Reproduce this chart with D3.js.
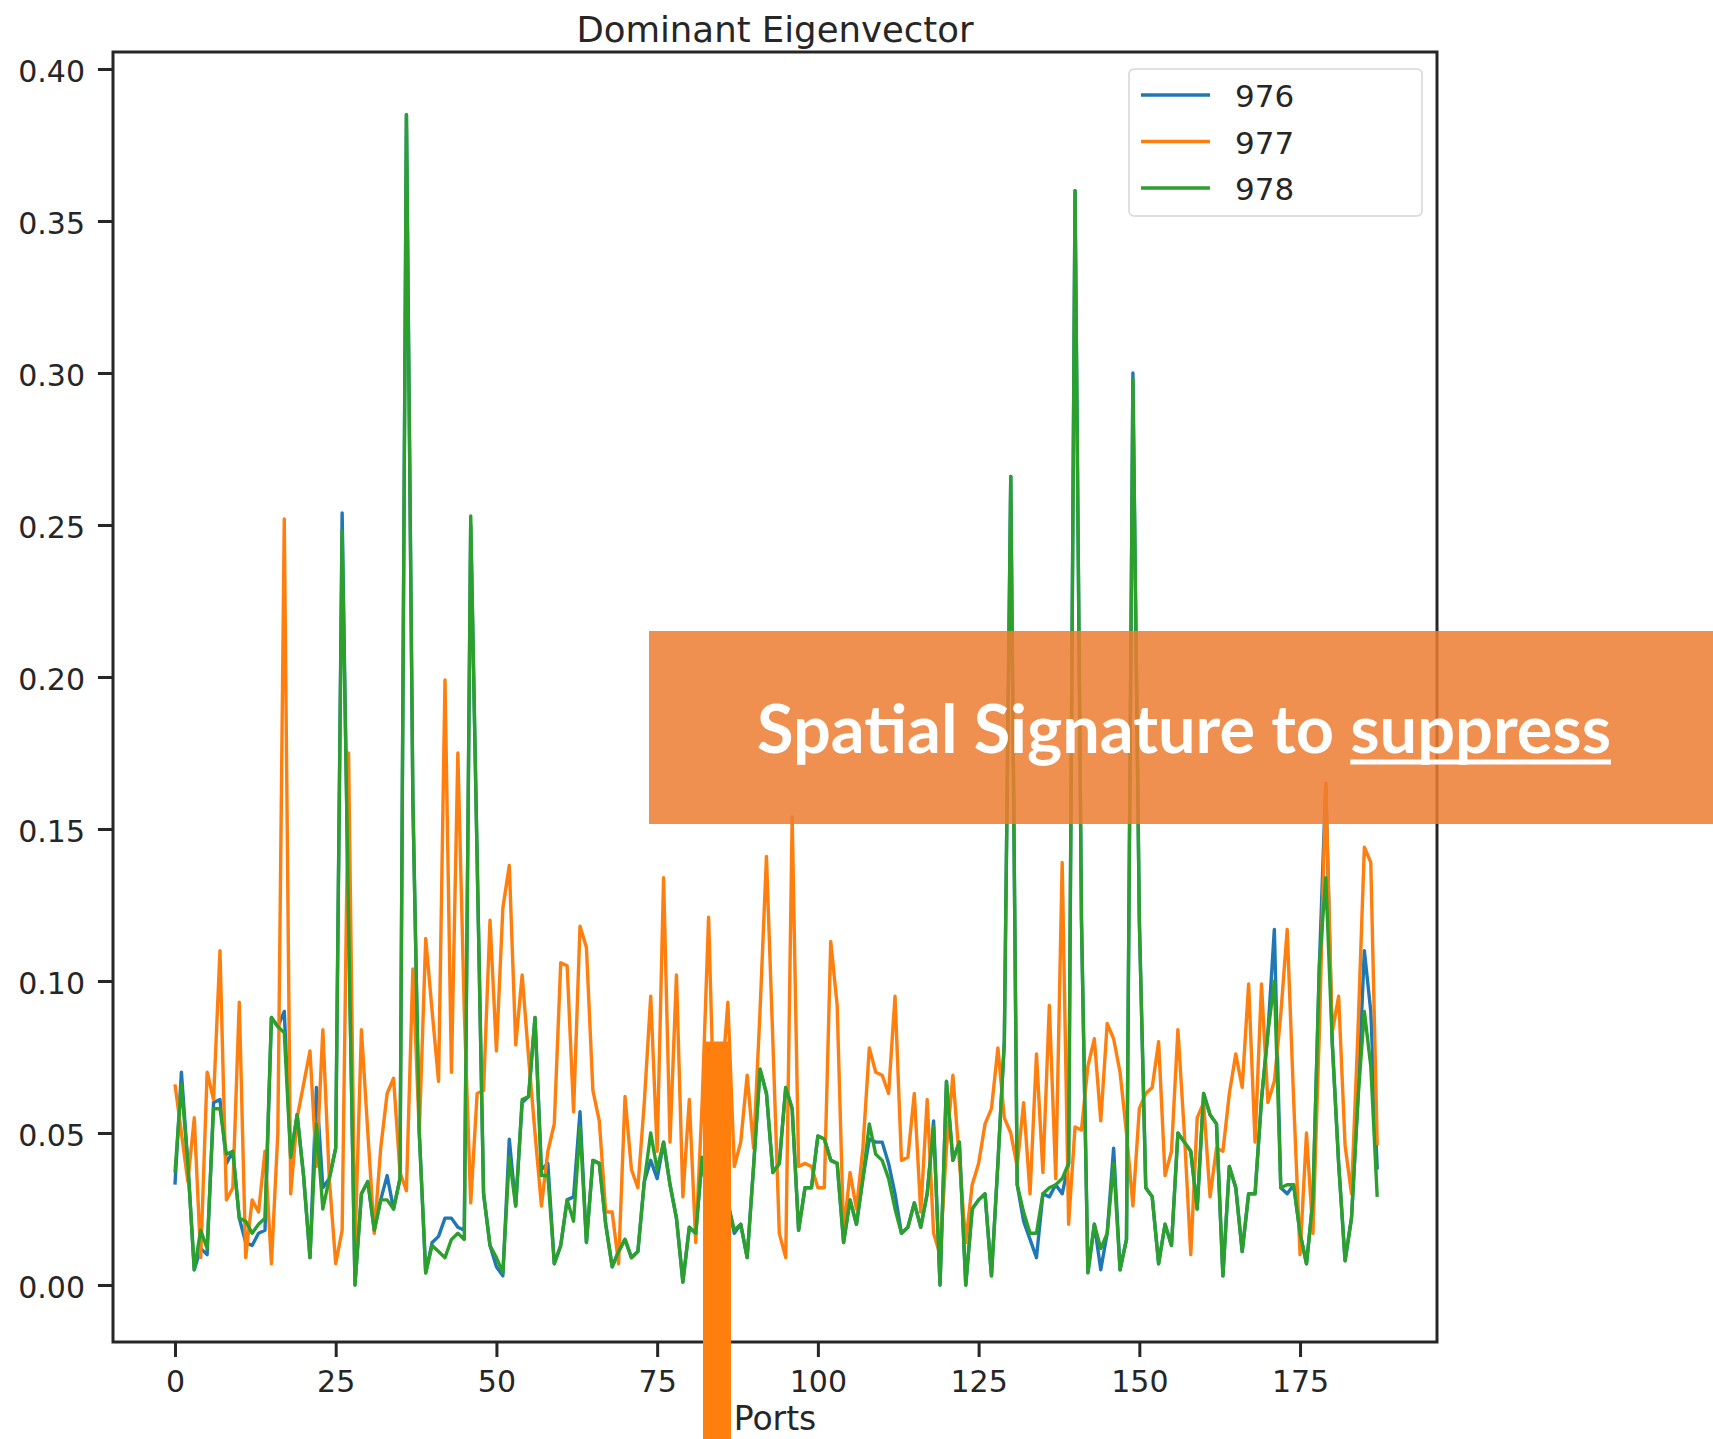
<!DOCTYPE html>
<html>
<head>
<meta charset="utf-8">
<script src="https://cdn.jsdelivr.net/npm/d3@7"></script>
<style>
  html, body { margin: 0; padding: 0; background: #ffffff; }
  svg { display: block; }
</style>
</head>
<body>
<svg id="chart" width="1713" height="1439"></svg>
<script>
// Port indices along the x axis
const ports = d3.range(0, 188);

// Dominant eigenvector components per port, one array per snapshot
const s976 = [
  0.033, 0.070, 0.040, 0.005, 0.012, 0.010, 0.060, 0.061, 0.040, 0.044,
  0.022, 0.014, 0.013, 0.017, 0.018, 0.088, 0.085, 0.090, 0.042, 0.056,
  0.036, 0.009, 0.065, 0.032, 0.035, 0.045, 0.254, 0.120, 0.000, 0.030,
  0.034, 0.018, 0.028, 0.036, 0.025, 0.035, 0.385, 0.160, 0.050, 0.004,
  0.014, 0.016, 0.022, 0.022, 0.019, 0.018, 0.250, 0.140, 0.030, 0.013,
  0.006, 0.003, 0.048, 0.026, 0.060, 0.062, 0.088, 0.038, 0.040, 0.007,
  0.013, 0.028, 0.029, 0.057, 0.014, 0.041, 0.040, 0.020, 0.006, 0.011,
  0.015, 0.009, 0.011, 0.034, 0.041, 0.035, 0.047, 0.033, 0.022, 0.001,
  0.019, 0.017, 0.042, 0.025, 0.035, 0.040, 0.027, 0.017, 0.020, 0.009,
  0.039, 0.071, 0.063, 0.037, 0.040, 0.065, 0.058, 0.018, 0.032, 0.032,
  0.049, 0.048, 0.041, 0.040, 0.014, 0.028, 0.020, 0.035, 0.048, 0.047,
  0.047, 0.040, 0.030, 0.017, 0.019, 0.027, 0.019, 0.030, 0.054, 0.000,
  0.067, 0.041, 0.047, 0.000, 0.025, 0.028, 0.030, 0.003, 0.040, 0.080,
  0.266, 0.033, 0.021, 0.015, 0.009, 0.030, 0.029, 0.033, 0.030, 0.040,
  0.360, 0.120, 0.004, 0.020, 0.005, 0.017, 0.045, 0.005, 0.015, 0.300,
  0.120, 0.032, 0.029, 0.007, 0.020, 0.013, 0.050, 0.047, 0.044, 0.025,
  0.063, 0.056, 0.053, 0.003, 0.039, 0.032, 0.011, 0.030, 0.030, 0.061,
  0.083, 0.117, 0.032, 0.030, 0.033, 0.017, 0.007, 0.028, 0.105, 0.165,
  0.080, 0.040, 0.008, 0.022, 0.061, 0.110, 0.090, 0.038
];

const s977 = [
  0.066, 0.050, 0.034, 0.055, 0.009, 0.070, 0.061, 0.110, 0.028, 0.032,
  0.093, 0.009, 0.028, 0.024, 0.044, 0.007, 0.050, 0.252, 0.030, 0.055,
  0.066, 0.077, 0.039, 0.084, 0.035, 0.007, 0.018, 0.175, 0.012, 0.084,
  0.050, 0.017, 0.045, 0.063, 0.068, 0.037, 0.031, 0.104, 0.050, 0.114,
  0.090, 0.067, 0.199, 0.070, 0.175, 0.090, 0.027, 0.063, 0.064, 0.120,
  0.077, 0.124, 0.138, 0.079, 0.102, 0.075, 0.050, 0.026, 0.044, 0.053,
  0.106, 0.105, 0.057, 0.118, 0.111, 0.064, 0.054, 0.024, 0.024, 0.007,
  0.062, 0.038, 0.032, 0.060, 0.095, 0.044, 0.134, 0.047, 0.102, 0.029,
  0.061, 0.014, 0.060, 0.121, 0.045, 0.065, 0.093, 0.039, 0.047, 0.069,
  0.045, 0.090, 0.141, 0.080, 0.017, 0.009, 0.154, 0.039, 0.040, 0.039,
  0.032, 0.032, 0.113, 0.092, 0.017, 0.037, 0.025, 0.045, 0.078, 0.070,
  0.069, 0.063, 0.095, 0.041, 0.042, 0.063, 0.024, 0.061, 0.017, 0.010,
  0.045, 0.069, 0.041, 0.014, 0.033, 0.040, 0.053, 0.058, 0.078, 0.055,
  0.050, 0.039, 0.060, 0.030, 0.076, 0.037, 0.092, 0.035, 0.139, 0.020,
  0.052, 0.051, 0.072, 0.081, 0.054, 0.086, 0.081, 0.070, 0.050, 0.026,
  0.058, 0.063, 0.065, 0.080, 0.036, 0.044, 0.084, 0.050, 0.010, 0.055,
  0.060, 0.029, 0.045, 0.044, 0.063, 0.076, 0.065, 0.099, 0.047, 0.099,
  0.060, 0.067, 0.089, 0.117, 0.061, 0.010, 0.050, 0.017, 0.083, 0.165,
  0.083, 0.095, 0.046, 0.030, 0.083, 0.144, 0.139, 0.046
];

const s978 = [
  0.037, 0.066, 0.040, 0.005, 0.018, 0.012, 0.058, 0.058, 0.043, 0.044,
  0.022, 0.021, 0.017, 0.020, 0.022, 0.088, 0.085, 0.083, 0.042, 0.056,
  0.036, 0.009, 0.053, 0.025, 0.035, 0.045, 0.248, 0.120, 0.000, 0.030,
  0.034, 0.018, 0.028, 0.028, 0.025, 0.035, 0.385, 0.160, 0.050, 0.004,
  0.013, 0.011, 0.009, 0.015, 0.017, 0.015, 0.253, 0.140, 0.030, 0.013,
  0.009, 0.004, 0.042, 0.026, 0.061, 0.062, 0.088, 0.036, 0.036, 0.007,
  0.013, 0.028, 0.021, 0.052, 0.014, 0.041, 0.040, 0.020, 0.006, 0.011,
  0.015, 0.009, 0.011, 0.034, 0.050, 0.038, 0.047, 0.033, 0.022, 0.001,
  0.019, 0.017, 0.042, 0.025, 0.035, 0.040, 0.027, 0.018, 0.020, 0.009,
  0.039, 0.071, 0.063, 0.037, 0.040, 0.065, 0.058, 0.018, 0.032, 0.032,
  0.049, 0.048, 0.041, 0.040, 0.014, 0.028, 0.020, 0.035, 0.053, 0.043,
  0.041, 0.035, 0.025, 0.017, 0.019, 0.027, 0.019, 0.030, 0.052, 0.000,
  0.067, 0.041, 0.047, 0.000, 0.025, 0.028, 0.030, 0.003, 0.040, 0.080,
  0.266, 0.033, 0.024, 0.017, 0.017, 0.030, 0.032, 0.033, 0.035, 0.040,
  0.360, 0.120, 0.004, 0.020, 0.012, 0.017, 0.040, 0.005, 0.015, 0.298,
  0.120, 0.032, 0.029, 0.007, 0.020, 0.013, 0.050, 0.047, 0.044, 0.025,
  0.063, 0.056, 0.053, 0.003, 0.039, 0.032, 0.011, 0.030, 0.030, 0.061,
  0.083, 0.100, 0.032, 0.033, 0.033, 0.017, 0.007, 0.028, 0.105, 0.134,
  0.080, 0.040, 0.008, 0.022, 0.061, 0.090, 0.072, 0.029
];

const seriesNames = ["976", "977", "978"];
const seriesValues = [s976, s977, s978];
const seriesColors = ["#1f77b4", "#ff7f0e", "#2ca02c"];

const xTicks = [0, 25, 50, 75, 100, 125, 150, 175];
const yTicks = [0.00, 0.05, 0.10, 0.15, 0.20, 0.25, 0.30, 0.35, 0.40];

const chartTitle = "Dominant Eigenvector";
const xLabel = "Ports";
const calloutText = "Spatial Signature to ";
const calloutEmphasis = "suppress";

// ---- layout ----
const W = 1713, H = 1439;
const plot = { left: 113, right: 1437, top: 52, bottom: 1342 };
const ink = "#262626";
const font = "'DejaVu Sans', sans-serif";
const lineWidth = 3.4;

const svg = d3.select("#chart");

const x = d3.scaleLinear().domain([-9.64, 196.3]).range([plot.left, plot.right]);
const y = d3.scaleLinear().domain([-0.01875, 0.4056]).range([plot.bottom, plot.top]);

// clip for the lines
svg.append("defs").append("clipPath").attr("id", "plotClip")
  .append("rect")
  .attr("x", plot.left).attr("y", plot.top)
  .attr("width", plot.right - plot.left).attr("height", plot.bottom - plot.top);

// axes
const xAxis = d3.axisBottom(x).tickValues(xTicks).tickSize(15).tickPadding(14)
  .tickFormat(d3.format("d"));
const yAxis = d3.axisLeft(y).tickValues(yTicks).tickSize(15).tickPadding(13)
  .tickFormat(d3.format(".2f"));

const gx = svg.append("g").attr("transform", `translate(0,${plot.bottom})`).call(xAxis);
const gy = svg.append("g").attr("transform", `translate(${plot.left},0)`).call(yAxis);

[gx, gy].forEach(g => {
  g.select(".domain").remove();
  g.selectAll(".tick line").attr("stroke", ink).attr("stroke-width", 3);
  g.selectAll(".tick text")
    .attr("fill", ink)
    .style("font-family", font)
    .style("font-size", "30px");
});
gy.selectAll(".tick text").attr("dy", "0.41em");

// series lines
const line = d3.line()
  .x((d, i) => x(ports[i]))
  .y(d => y(d));

const lines = svg.append("g").attr("clip-path", "url(#plotClip)");
seriesValues.forEach((vals, k) => {
  lines.append("path")
    .datum(vals)
    .attr("d", line)
    .attr("fill", "none")
    .attr("stroke", seriesColors[k])
    .attr("stroke-width", lineWidth)
    .attr("stroke-linejoin", "round")
    .attr("stroke-linecap", "butt");
});

// axes frame
svg.append("rect")
  .attr("x", plot.left).attr("y", plot.top)
  .attr("width", plot.right - plot.left).attr("height", plot.bottom - plot.top)
  .attr("fill", "none").attr("stroke", ink).attr("stroke-width", 3);

// title and x label
svg.append("text")
  .attr("x", (plot.left + plot.right) / 2).attr("y", 41.5)
  .attr("text-anchor", "middle")
  .attr("fill", ink)
  .style("font-family", font).style("font-size", "35.5px")
  .text(chartTitle);

svg.append("text")
  .attr("x", (plot.left + plot.right) / 2).attr("y", 1430)
  .attr("text-anchor", "middle")
  .attr("fill", ink)
  .style("font-family", font).style("font-size", "33px")
  .text(xLabel);

// legend
const legend = svg.append("g");
legend.append("rect")
  .attr("x", 1129).attr("y", 69).attr("width", 293).attr("height", 147)
  .attr("rx", 5).attr("ry", 5)
  .attr("fill", "#ffffff").attr("fill-opacity", 0.8)
  .attr("stroke", "#d6d6d6").attr("stroke-width", 1.5);
seriesNames.forEach((name, k) => {
  const yy = 95 + k * 46.5;
  legend.append("line")
    .attr("x1", 1141).attr("x2", 1210).attr("y1", yy).attr("y2", yy)
    .attr("stroke", seriesColors[k]).attr("stroke-width", lineWidth);
  legend.append("text")
    .attr("x", 1235).attr("y", yy + 12)
    .attr("fill", ink)
    .style("font-family", font).style("font-size", "31px")
    .text(name);
});

// callout banner
const banner = { x: 649, y: 631, w: W - 649, h: 193 };
svg.append("rect")
  .attr("x", banner.x).attr("y", banner.y)
  .attr("width", banner.w).attr("height", banner.h)
  .attr("fill", "#ED7D31").attr("fill-opacity", 0.85);

const callout = svg.append("text")
  .attr("x", 0).attr("y", 753)
  .attr("fill", "#ffffff")
  .style("font-family", "Lato, 'Open Sans', sans-serif")
  .style("font-weight", "700")
  .style("font-size", "100px");
callout.append("tspan").text(calloutText);
callout.append("tspan").text(calloutEmphasis);

// size the callout to span its target width, centred in the banner
const targetWidth = 854;
const natural = callout.node().getComputedTextLength();
const fs = 100 * targetWidth / natural;
callout.style("font-size", fs + "px");
const textW = callout.node().getComputedTextLength();
const cx = 1184;
callout.attr("x", cx - textW / 2);

// underline beneath the emphasised word
const node = callout.node();
const startIdx = calloutText.length;
const endIdx = calloutText.length + calloutEmphasis.length - 1;
const ux1 = node.getStartPositionOfChar(startIdx).x;
const ux2 = node.getEndPositionOfChar(endIdx).x;
svg.append("rect")
  .attr("x", ux1).attr("y", 759.5)
  .attr("width", ux2 - ux1).attr("height", 5)
  .attr("fill", "#ffffff");

// vertical marker bar
svg.append("rect")
  .attr("x", 703).attr("y", 1041.5)
  .attr("width", 28).attr("height", H - 1041.5)
  .attr("fill", "#ff7f0e");
</script>
</body>
</html>
